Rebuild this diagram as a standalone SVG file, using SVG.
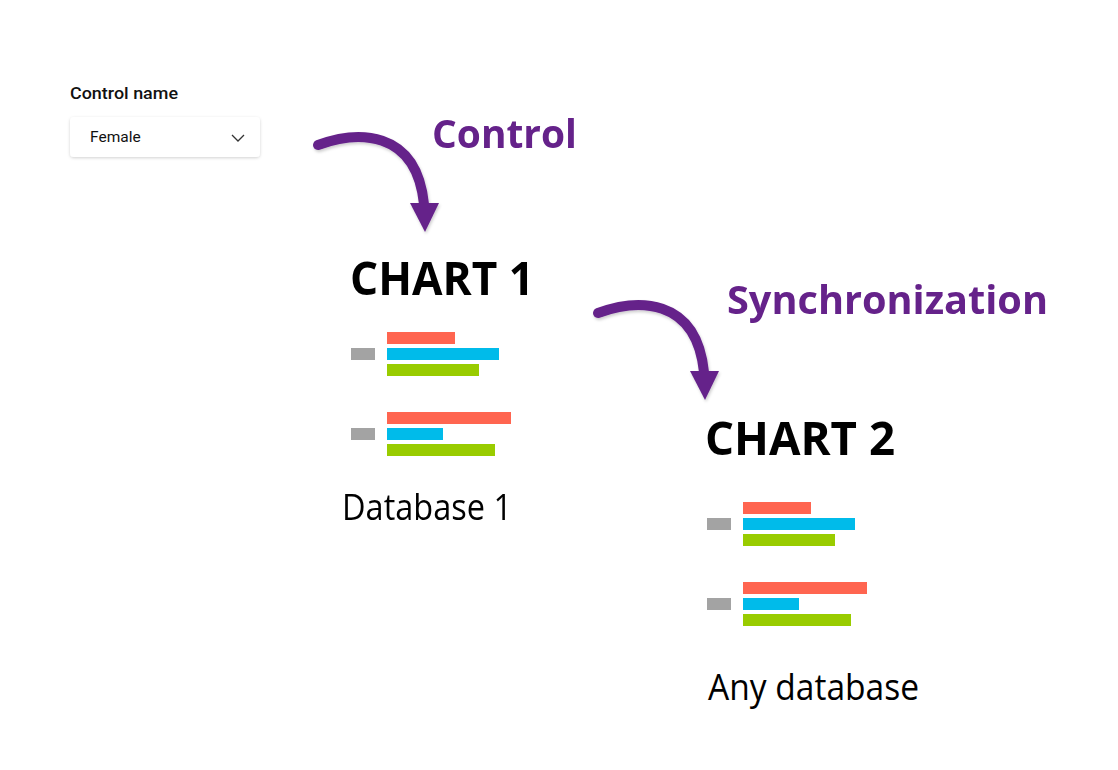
<svg xmlns="http://www.w3.org/2000/svg" width="1118" height="770" viewBox="0 0 1118 770">
<defs>
<style>
.bar-r{fill:#FF6550}
.bar-b{fill:#00BBEA}
.bar-g{fill:#99CC00}
.bar-k{fill:#A3A3A3}
.title{font-family:"Open Sans","Liberation Sans",sans-serif;font-weight:700;font-size:46px;fill:#000}
.sub{font-family:"Open Sans","Liberation Sans",sans-serif;font-weight:400;font-size:37px;fill:#000}
.lbl{font-family:"Open Sans","Liberation Sans",sans-serif;font-weight:700;font-size:40px;fill:#65228A}
.ui{font-family:Roboto,"Noto Sans",sans-serif;fill:#111}
.arrow{fill:none;stroke:#65228A;stroke-width:10;stroke-linecap:round}
.head{fill:#65228A}
</style>
<filter id="sh" x="-20%" y="-20%" width="140%" height="160%">
<feDropShadow dx="0" dy="1" stdDeviation="1.5" flood-color="#000" flood-opacity="0.18"/>
</filter>
<filter id="ash" x="-20%" y="-20%" width="140%" height="140%">
<feDropShadow dx="1" dy="2" stdDeviation="1.5" flood-color="#000" flood-opacity="0.2"/>
</filter>
<g id="bars">
<rect class="bar-r" x="0" y="0" width="68" height="12"/>
<rect class="bar-b" x="0" y="16" width="112" height="12"/>
<rect class="bar-g" x="0" y="32" width="92" height="12"/>
<rect class="bar-k" x="-36" y="16" width="24" height="12"/>
<rect class="bar-r" x="0" y="80" width="124" height="12"/>
<rect class="bar-b" x="0" y="96" width="56" height="12"/>
<rect class="bar-g" x="0" y="112" width="108" height="12"/>
<rect class="bar-k" x="-36" y="96" width="24" height="12"/>
</g>
</defs>
<rect width="1118" height="770" fill="#fff"/>

<g id="control">
<text class="ui" x="70" y="99" font-size="16.5" font-weight="500" textLength="108" lengthAdjust="spacingAndGlyphs">Control name</text>
<rect x="70" y="117" width="190" height="40" rx="4" fill="#fff" filter="url(#sh)"/>
<text class="ui" x="90" y="142" font-size="15.5">Female</text>
<polyline points="232,135 238,141 244,135" fill="none" stroke="#333" stroke-width="1.3"/>
</g>

<g id="connectors" filter="url(#ash)">
<g id="arrow-control">
<path class="arrow" d="M318,145 C356,131 416,128 424,204"/>
<polygon class="head" points="410,203 439,203 425,232"/>
</g>
<g id="arrow-sync" transform="translate(280,168)">
<path class="arrow" d="M318,145 C356,131 416,128 424,204"/>
<polygon class="head" points="410,203 439,203 425,232"/>
</g>
</g>

<g id="label-control"><text class="lbl" x="432" y="148" textLength="145" lengthAdjust="spacingAndGlyphs">Control</text></g>
<g id="label-sync"><text class="lbl" x="727" y="314" textLength="321" lengthAdjust="spacingAndGlyphs">Synchronization</text></g>

<g id="chart1">
<text class="title" x="350" y="295" textLength="184" lengthAdjust="spacingAndGlyphs">CHART 1</text>
<use href="#bars" x="387" y="332"/>
<text class="sub" x="342" y="520" textLength="170" lengthAdjust="spacingAndGlyphs">Database 1</text>
</g>

<g id="chart2">
<text class="title" x="705" y="455" textLength="190" lengthAdjust="spacingAndGlyphs">CHART 2</text>
<use href="#bars" x="743" y="502"/>
<text class="sub" x="708" y="700" textLength="211" lengthAdjust="spacingAndGlyphs">Any database</text>
</g>
</svg>
